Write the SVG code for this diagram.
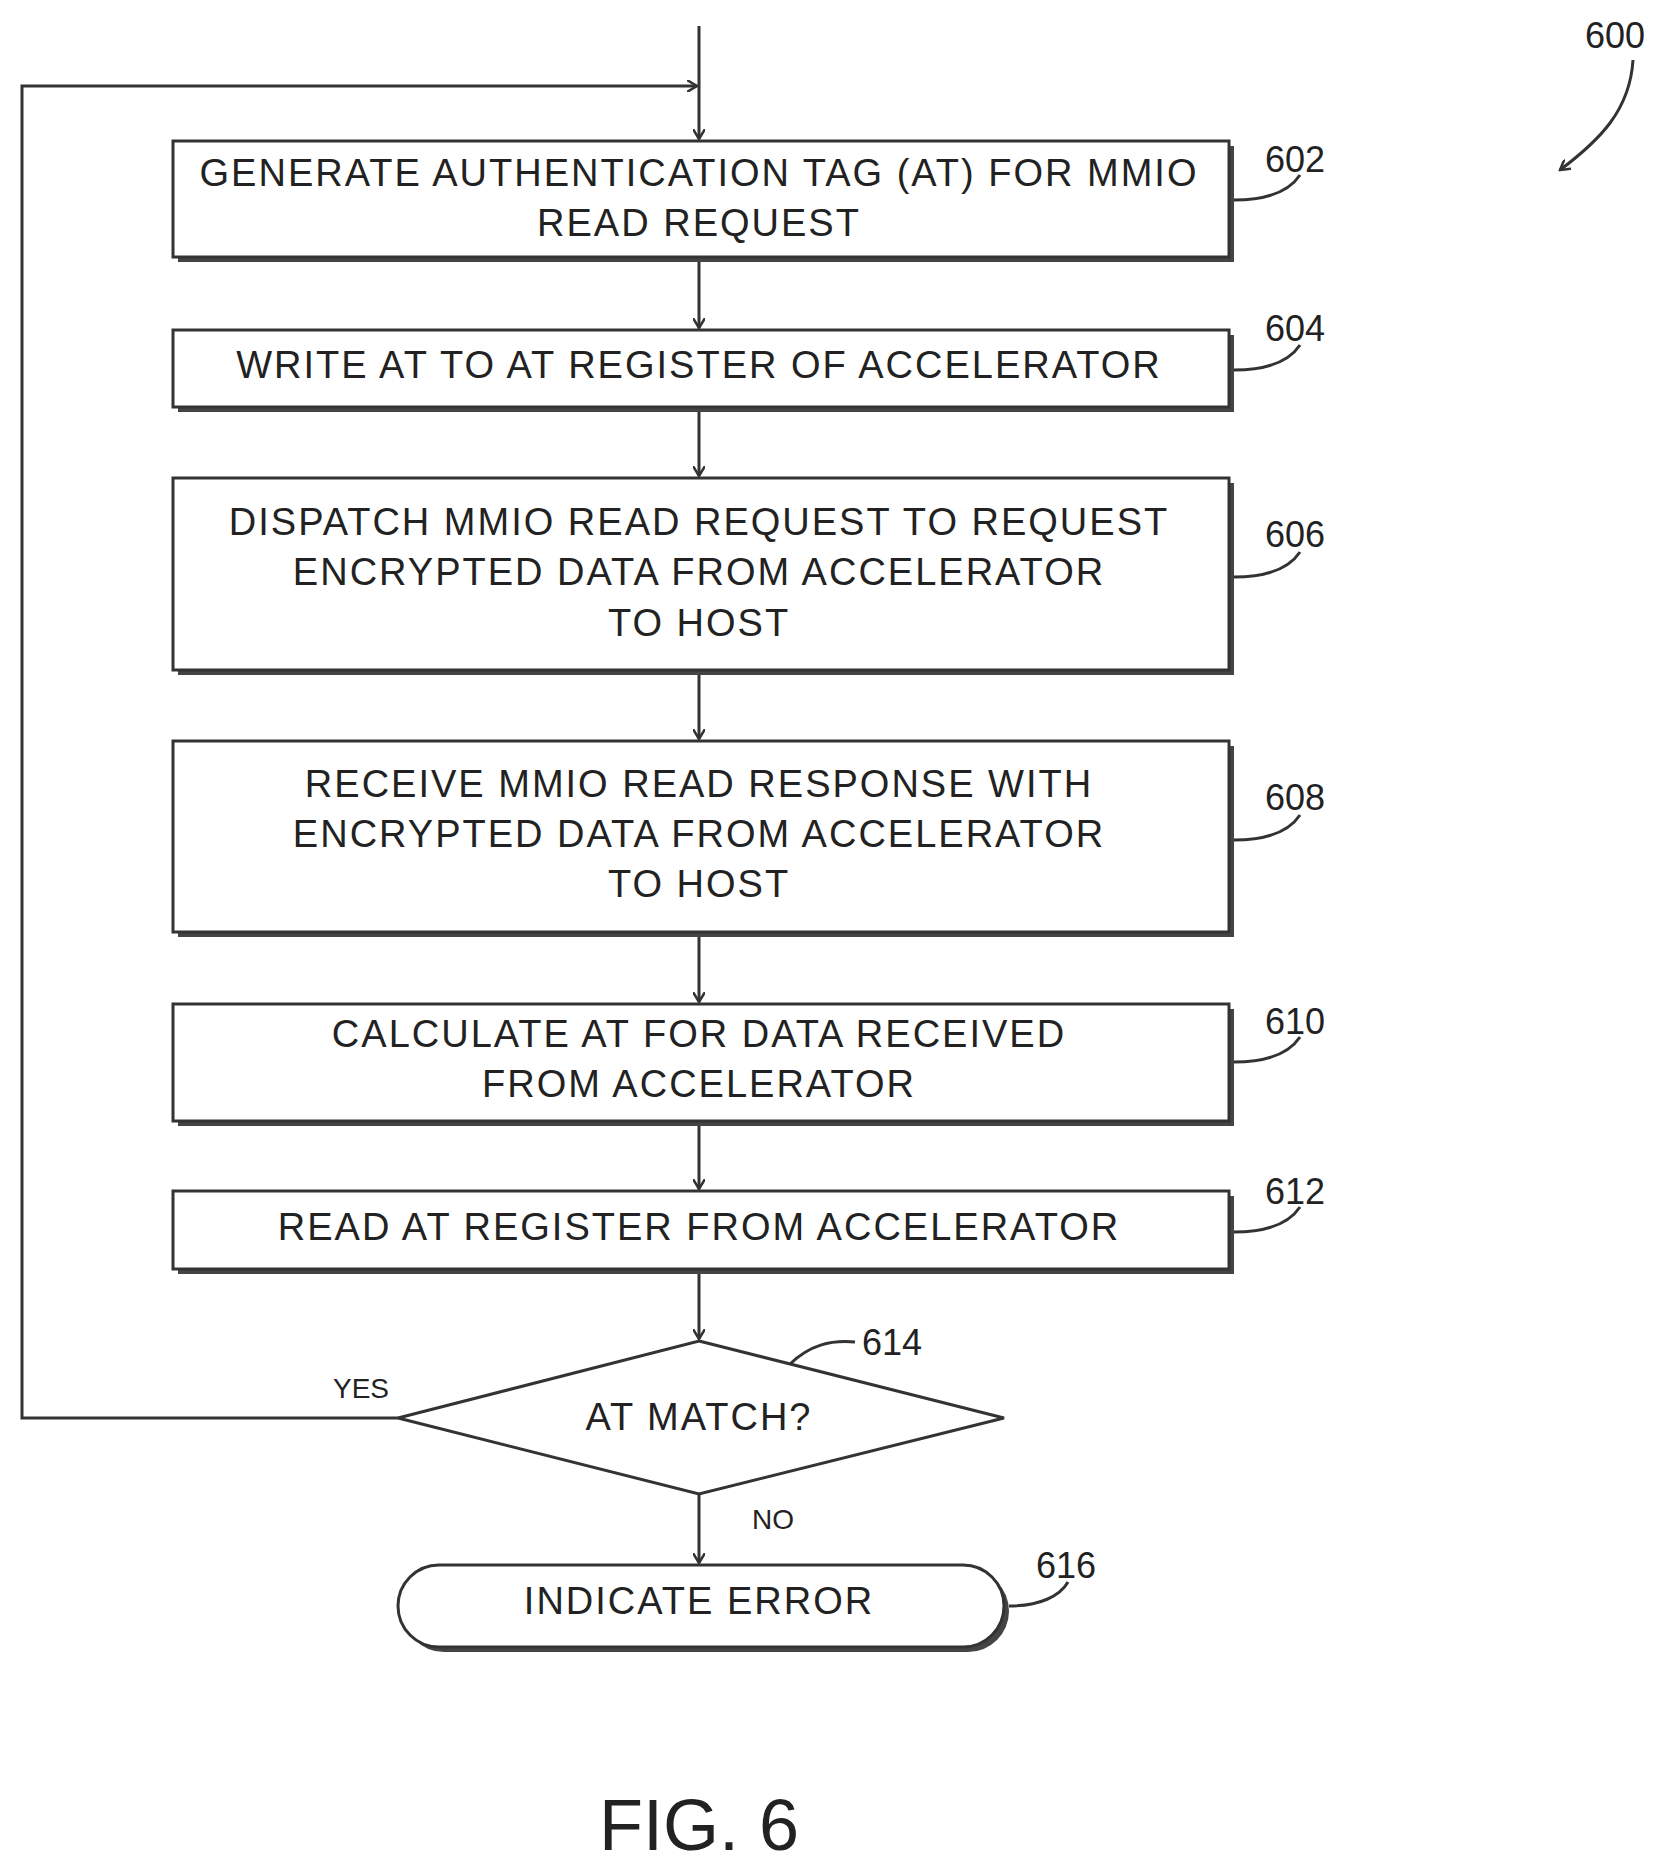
<svg xmlns="http://www.w3.org/2000/svg" width="1673" height="1873" viewBox="0 0 1673 1873">
<style>
text{font-family:"Liberation Sans",Arial,sans-serif;fill:#222;text-anchor:middle}
.t{font-size:38px;letter-spacing:2px}
.r{font-size:36px;text-anchor:start}
.b{fill:#fff;stroke:#333;stroke-width:3}
.s{fill:#444}
.c{fill:none;stroke:#333;stroke-width:3}
</style>
<defs><marker id="a" markerWidth="12" markerHeight="12" refX="10" refY="6" orient="auto" markerUnits="userSpaceOnUse"><path d="M0,0 L10,6 L0,12" fill="none" stroke="#333" stroke-width="2.5"/></marker></defs>
<g id="connectors" class="c">
<path d="M699 26V139" marker-end="url(#a)"/>
<path d="M699 262V328" marker-end="url(#a)"/>
<path d="M699 412V476" marker-end="url(#a)"/>
<path d="M699 675V739" marker-end="url(#a)"/>
<path d="M699 937V1002" marker-end="url(#a)"/>
<path d="M699 1126V1189" marker-end="url(#a)"/>
<path d="M699 1274V1339" marker-end="url(#a)"/>
<path d="M699 1494V1563" marker-end="url(#a)"/>
<path d="M398 1418H22V86H697" marker-end="url(#a)"/>
<path d="M1633 60C1630 110 1600 140 1560 170" marker-end="url(#a)"/>
</g>
<g id="n602"><rect class="s" x="178" y="146" width="1056" height="116"/><rect class="b" x="173" y="141" width="1056" height="116"/><text class="t" x="699" y="186">GENERATE AUTHENTICATION TAG (AT) FOR MMIO</text><text class="t" x="699" y="236">READ REQUEST</text><path class="c" d="M1234 200C1270 200 1290 190 1300 175"/><text class="r" x="1265" y="172">602</text></g>
<g id="n604"><rect class="s" x="178" y="335" width="1056" height="77"/><rect class="b" x="173" y="330" width="1056" height="77"/><text class="t" x="699" y="378">WRITE AT TO AT REGISTER OF ACCELERATOR</text><path class="c" d="M1234 370C1270 370 1290 360 1300 345"/><text class="r" x="1265" y="341">604</text></g>
<g id="n606"><rect class="s" x="178" y="483" width="1056" height="192"/><rect class="b" x="173" y="478" width="1056" height="192"/><text class="t" x="699" y="535">DISPATCH MMIO READ REQUEST TO REQUEST</text><text class="t" x="699" y="585">ENCRYPTED DATA FROM ACCELERATOR</text><text class="t" x="699" y="636">TO HOST</text><path class="c" d="M1234 577C1270 577 1290 567 1300 552"/><text class="r" x="1265" y="547">606</text></g>
<g id="n608"><rect class="s" x="178" y="746" width="1056" height="191"/><rect class="b" x="173" y="741" width="1056" height="191"/><text class="t" x="699" y="797">RECEIVE MMIO READ RESPONSE WITH</text><text class="t" x="699" y="847">ENCRYPTED DATA FROM ACCELERATOR</text><text class="t" x="699" y="897">TO HOST</text><path class="c" d="M1234 840C1270 840 1290 830 1300 815"/><text class="r" x="1265" y="810">608</text></g>
<g id="n610"><rect class="s" x="178" y="1009" width="1056" height="117"/><rect class="b" x="173" y="1004" width="1056" height="117"/><text class="t" x="699" y="1047">CALCULATE AT FOR DATA RECEIVED</text><text class="t" x="699" y="1097">FROM ACCELERATOR</text><path class="c" d="M1234 1062C1270 1062 1290 1052 1300 1037"/><text class="r" x="1265" y="1034">610</text></g>
<g id="n612"><rect class="s" x="178" y="1196" width="1056" height="78"/><rect class="b" x="173" y="1191" width="1056" height="78"/><text class="t" x="699" y="1240">READ AT REGISTER FROM ACCELERATOR</text><path class="c" d="M1234 1232C1270 1232 1290 1222 1300 1207"/><text class="r" x="1265" y="1204">612</text></g>
<g id="n614"><path class="b" d="M699 1341L1004 1418L699 1494L398 1418Z" stroke-width="4"/><text class="t" x="699" y="1430">AT MATCH?</text><path class="c" d="M790 1364C810 1345 830 1340 855 1342"/><text class="r" x="862" y="1355">614</text><text style="font-size:28px" x="361" y="1398">YES</text><text style="font-size:28px" x="773" y="1529">NO</text></g>
<g id="n616"><rect class="s" x="403" y="1570" width="606" height="82" rx="41"/><rect class="b" x="398" y="1565" width="606" height="82" rx="41"/><text class="t" x="699" y="1614">INDICATE ERROR</text><path class="c" d="M1009 1606C1040 1606 1060 1596 1068 1582"/><text class="r" x="1036" y="1578">616</text></g>
<text class="r" x="1585" y="48">600</text>
<text style="font-size:72px" x="699" y="1850">FIG. 6</text>
</svg>
